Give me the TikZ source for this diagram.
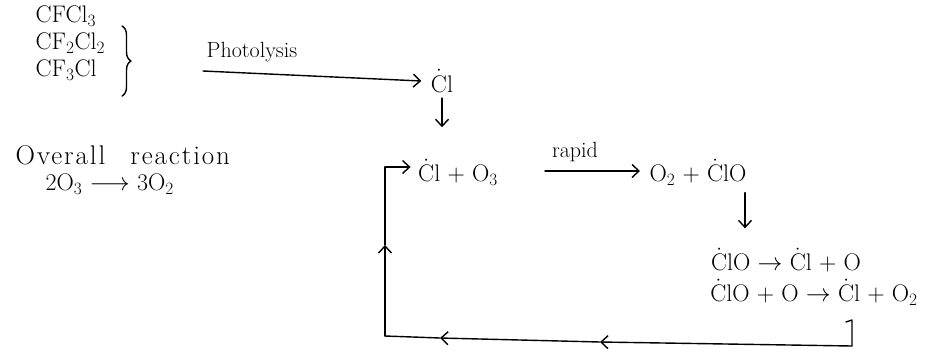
\documentclass[tikz,border=0pt]{standalone}
\usepackage{fontspec}
\newfontfamily\spacedfont{Latin Modern Roman}[LetterSpace=7,WordSpace=2.5]
\usetikzlibrary{arrows.meta,decorations.pathreplacing}
\newcommand{\rcl}{$\dot{\mathrm{C}}$l}
\begin{document}
\begin{tikzpicture}[x=1pt,y=-1pt,
  txt/.style={inner sep=1.5pt,font=\fontsize{24}{26}\selectfont},
  ln/.style={line width=1.4pt,line cap=round,line join=round},
  arr/.style={ln,-{Straight Barb[length=7pt,width=13pt,line width=1.4pt]}},
  mid/.style={ln,-{Straight Barb[length=7pt,width=13pt,line width=1.4pt]}}]
\useasboundingbox (0,0) rectangle (934,354);
% CFC sources
\node[txt,anchor=west] (c1) at (34,16) {CFCl$_3$};
\node[txt,anchor=west] (c2) at (34,43) {CF$_2$Cl$_2$};
\node[txt,anchor=west] (c3) at (34,70) {CF$_3$Cl};
\draw[ln,decorate,decoration={brace,amplitude=9pt}] (122,26) -- (122,96);
% photolysis
\coordinate (p0) at (203,71);
\node[txt] (cl1) at (442,81) {\rcl};
\node[txt,anchor=south,font=\fontsize{22}{24}\selectfont] (ph) at (252,64) {Photolysis};
\draw[arr] (p0) -- ([xshift=-8pt]cl1.west);
% first reaction
\node[txt] (r1) at (458,172) {\rcl\ + O$_3$};
\draw[arr,shorten >=30pt] ([yshift=-4pt]cl1.south) -- (r1.north -| cl1.south);
\coordinate (ra) at (545,171);
\coordinate (rb) at (640,171);
\draw[arr] (ra) -- (rb);
\node[txt,anchor=south,font=\fontsize{22}{24}\selectfont] (rap) at (575,163) {rapid};
\node[txt] (r2) at (698,172) {O$_2$ + $\dot{\mathrm{C}}$lO};
\node[txt] (r3) at (786,260) {$\dot{\mathrm{C}}$lO $\rightarrow$ \rcl\ + O};
\node[txt] (r4) at (814,292) {$\dot{\mathrm{C}}$lO + O $\rightarrow$ \rcl\ + O$_2$};
\draw[arr,shorten >=18pt] ([yshift=-6pt]r2.south -| 745,0) -- (r3.north -| 745,0);
% regeneration loop
\coordinate (e1) at (846,322);
\coordinate (e0) at (852,320);
\coordinate (e2) at (852,346);
\coordinate (b1) at (600,342);
\coordinate (b2) at (440,338);
\coordinate (bl) at (385,336);
\coordinate (lm) at (385,245);
\coordinate (tl) at (385,167);
\draw[ln] (e1) -- (e0) -- (e2);
\draw[mid] (e2) -- (b1);
\draw[mid] (b1) -- (b2);
\draw[ln] (b2) -- (bl);
\draw[mid] (bl) -- (lm);
\draw[ln] (lm) -- (tl);
\draw[arr] (tl) -- ([xshift=-6pt]r1.west |- tl);
% overall
\node[txt,anchor=west,font=\fontsize{27}{29}\spacedfont] (ov) at (14,155) {Overall reaction};
\node[txt,anchor=west] (ov2) at (44,184) {2O$_3$ $\longrightarrow$ 3O$_2$};
\end{tikzpicture}
\end{document}
